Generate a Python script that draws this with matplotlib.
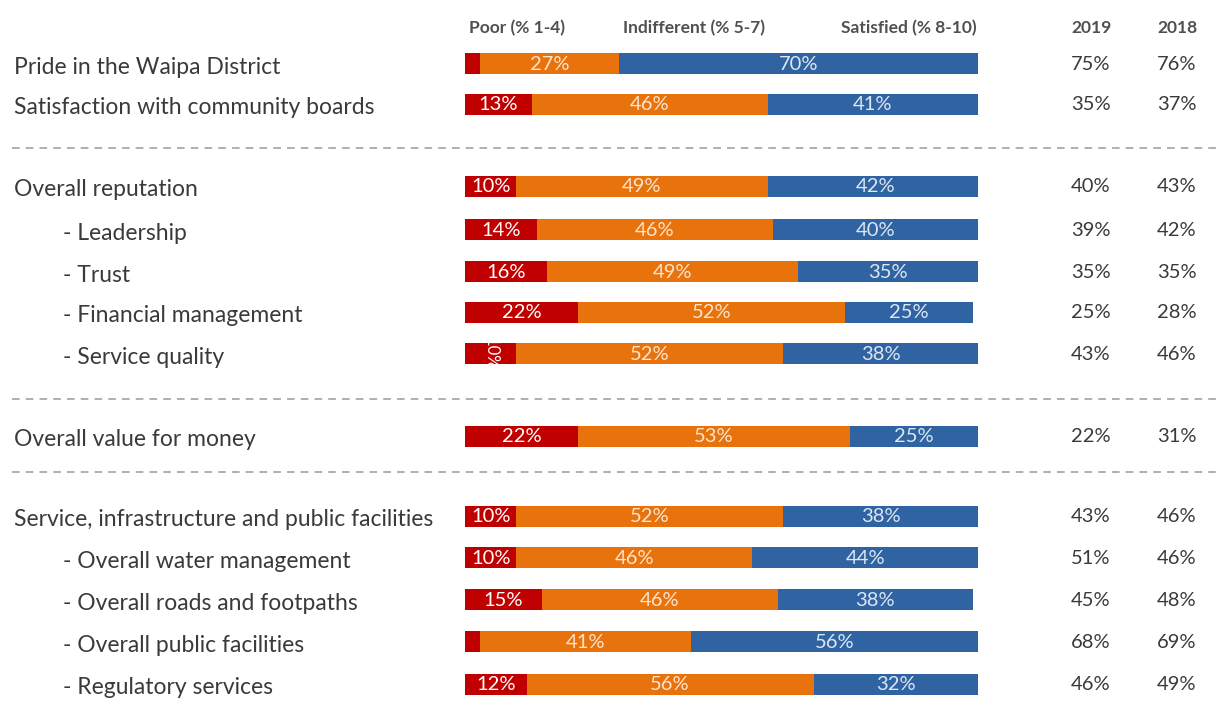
import matplotlib
matplotlib.use("Agg")
import matplotlib.pyplot as plt

plt.rcParams['font.family'] = ['Lato', 'DejaVu Sans']

# survey measures, top to bottom
labels = [
    "Pride in the Waipa District",
    "Satisfaction with community boards",
    "Overall reputation",
    "- Leadership",
    "- Trust",
    "- Financial management",
    "- Service quality",
    "Overall value for money",
    "Service, infrastructure and public facilities",
    "- Overall water management",
    "- Overall roads and footpaths",
    "- Overall public facilities",
    "- Regulatory services",
]
poor = [3, 13, 10, 14, 16, 22, 10, 22, 10, 10, 15, 3, 12]
indifferent = [27, 46, 49, 46, 49, 52, 52, 53, 52, 46, 46, 41, 56]
satisfied = [70, 41, 42, 40, 35, 25, 38, 25, 38, 44, 38, 56, 32]
score_2019 = [75, 35, 40, 39, 35, 25, 43, 22, 43, 51, 45, 68, 46]
score_2018 = [76, 37, 43, 42, 35, 28, 46, 31, 46, 46, 48, 69, 49]

segment_names = ["Poor (% 1-4)", "Indifferent (% 5-7)", "Satisfied (% 8-10)"]
year_names = ["2019", "2018"]

# this row's poor label is turned on its side
rotated_rows = {"- Service quality"}

# layout (figure pixels)
W, H = 1222, 704
row_y = [63, 104, 186, 229, 271, 312, 353, 436, 516, 557, 599, 641, 684]
divider_y = [148, 399, 472]
bar_left, bar_right = 465, 978
bar_h = 21
col_x = [1091, 1177]

colors = ["#C00000", "#E8720C", "#2F63A2"]
text_colors = ["#FFFFFF", "#FCE4CF", "#DDE7F3"]
ink = "#3A3A3A"

fig = plt.figure(figsize=(W / 100, H / 100), dpi=100)
fig.patch.set_facecolor("white")

# background axes in pixel units for labels and dividers
ax = fig.add_axes([0, 0, 1, 1])
ax.set_xlim(0, W)
ax.set_ylim(H, 0)
ax.axis("off")

# bar axes: x in percent over the bar column, y in pixel rows
bx = fig.add_axes([bar_left / W, 0, (bar_right - bar_left) / W, 1])
bx.set_xlim(0, 100)
bx.set_ylim(H, 0)
bx.axis("off")

for i, lab in enumerate(labels):
    indent = lab.startswith("-")
    ax.text(63 if indent else 14, row_y[i] + 4, lab, fontsize=16.5,
            color=ink, ha="left", va="center")

left = [0] * len(labels)
for k, vals in enumerate([poor, indifferent, satisfied]):
    bars = bx.barh(row_y, vals, left=left, height=bar_h, color=colors[k],
                   edgecolor="none")
    for i, v in enumerate(vals):
        cx = left[i] + v / 2
        if k == 0 and labels[i] in rotated_rows:
            t = bx.text(cx, row_y[i], f"{v}%", fontsize=12,
                        color=text_colors[k], ha="center", va="center",
                        rotation=-90)
            t.set_clip_path(bars.patches[i])
        elif v >= 8:
            bx.text(cx, row_y[i] + 1, f"{v}%", fontsize=14.5,
                    color=text_colors[k], ha="center", va="center")
    left = [a + b for a, b in zip(left, vals)]

# column headers
hdr = dict(fontsize=12.5, fontweight="bold", color="#505050", va="center")
ax.text(469, 28, segment_names[0], ha="left", **hdr)
ax.text(694, 28, segment_names[1], ha="center", **hdr)
ax.text(977, 28, segment_names[2], ha="right", **hdr)
ax.text(col_x[0], 28, year_names[0], ha="center", **hdr)
ax.text(col_x[1], 28, year_names[1], ha="center", **hdr)

for i in range(len(labels)):
    ax.text(col_x[0], row_y[i] + 1, f"{score_2019[i]}%", fontsize=14.5,
            color=ink, ha="center", va="center")
    ax.text(col_x[1], row_y[i] + 1, f"{score_2018[i]}%", fontsize=14.5,
            color=ink, ha="center", va="center")

for y in divider_y:
    ax.plot([12, W], [y, y], color="#9A9A9A", lw=1.1,
            linestyle=(0, (5, 4)))

fig.savefig("out.png", dpi=100)
